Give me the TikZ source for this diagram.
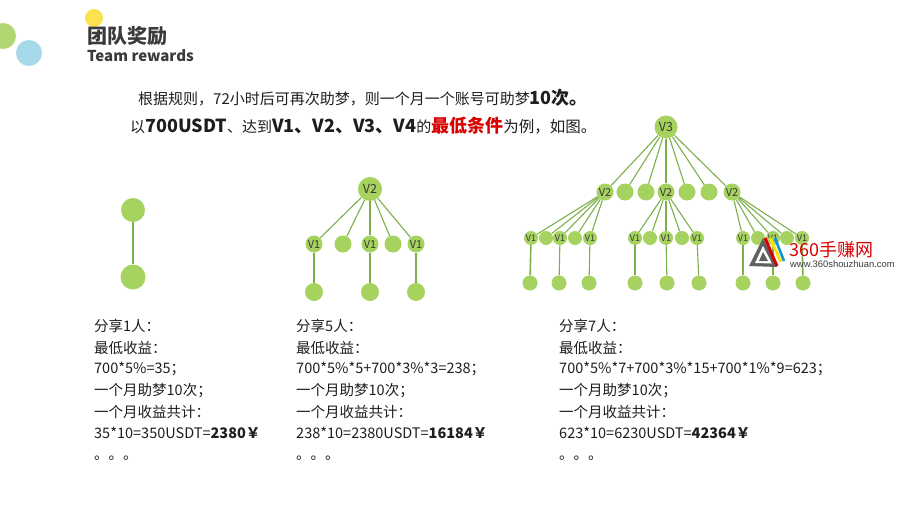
\documentclass[tikz,border=0pt]{standalone}
\usepackage{fontspec}
\setmainfont{Noto Sans CJK SC}
\newfontfamily\logofont{Liberation Sans}
\usetikzlibrary{backgrounds}
\definecolor{leaf}{HTML}{A6D25F}
\definecolor{edgec}{HTML}{7DB04A}
\definecolor{inkc}{HTML}{3A3A3A}
\definecolor{txtc}{HTML}{1E1E1E}
\definecolor{dotg}{HTML}{B2D672}
\definecolor{doty}{HTML}{FBE24E}
\definecolor{dotb}{HTML}{A6D9EA}
\tikzset{
 big/.style={circle,fill=leaf,minimum size=23pt,inner sep=0pt,font=\fontsize{12.5}{12.5}\selectfont,text=inkc},
 mid/.style={circle,fill=leaf,minimum size=17pt,inner sep=0pt,font=\fontsize{11}{11}\selectfont,text=inkc},
 sml/.style={circle,fill=leaf,minimum size=14pt,inner sep=0pt,font=\fontsize{9}{9}\selectfont,text=inkc},
 leafn/.style={circle,fill=leaf,minimum size=16pt,inner sep=0pt},
 link/.style={draw=edgec,line width=1.1pt},
 para/.style={anchor=west,inner sep=0pt,font=\fontsize{14.5}{14.5}\selectfont,text=txtc},
 intro/.style={anchor=west,inner sep=0pt,font=\fontsize{15}{15}\selectfont,text=txtc},
}
\begin{document}
\begin{tikzpicture}[x=1pt,y=-1pt]
\useasboundingbox (0,0) rectangle (900,506);
% decoration
\fill[doty] (94,18) circle (9);
\fill[dotg] (3,36) circle (13);
\fill[dotb] (29,53) circle (13);
\node[anchor=west,inner sep=0pt,font=\bfseries\fontsize{20}{20}\selectfont,text=inkc] (title) at (87,36) {团队奖励};
\node[anchor=west,inner sep=0pt,font=\bfseries\fontsize{15}{15}\selectfont,text=inkc] (subtitle) at (87,56) {Team rewards};
\node[intro] (l1) at (138,98) {根据规则，72小时后可再次助梦，则一个月一个账号可助梦{\bfseries\fontsize{18}{18}\selectfont 10次。}};
\node[intro] (l2) at (130,126) {以{\bfseries\fontsize{18}{18}\selectfont 700USDT}、达到{\bfseries\fontsize{18}{18}\selectfont V1、V2、V3、V4}的{\bfseries\fontsize{18}{18}\selectfont\color{red!85!black}最低条件}{\fontsize{15.5}{15.5}\selectfont 为例，如图。}};
% left tree
\node[circle,fill=leaf,minimum size=24pt,inner sep=0pt] (a1) at (133,210) {};
\node[circle,fill=leaf,minimum size=25pt,inner sep=0pt] (a2) at (133,277) {};
% middle tree
\node[big,minimum size=24pt] (m) at (370,189) {V2};
\foreach \n/\x/\t in {m1/314/V1,m2/343/,m3/370/V1,m4/393/,m5/416/V1}
  \node[mid] (\n) at (\x,244) {\t};
\foreach \n/\x in {mb1/314,mb3/370,mb5/416}
  \node[leafn,minimum size=18pt] (\n) at (\x,292) {};
% right tree
\node[big] (r) at (666,127) {V3};
\foreach \n/\x/\t in {s1/605/V2,s2/625/,s3/646/,s4/666/V2,s5/687/,s6/709/,s7/732/V2}
  \node[mid] (\n) at (\x,192) {\t};
\foreach \n/\x/\t in {t1/531/V1,t2/546/,t3/560/V1,t4/575/,t5/590/V1,t6/635/V1,t7/650/,t8/666/V1,t9/682/,t10/697/V1,t11/743/V1,t12/758/,t13/773/V1,t14/787/,t15/802/V1}
  \node[sml] (\n) at (\x,238) {\t};
\foreach \n/\x in {b1/530,b2/559,b3/589,b4/635,b5/667,b6/699,b7/743,b8/773,b9/803}
  \node[leafn,minimum size=15pt] (\n) at (\x,283) {};
\begin{scope}[on background layer]
\fill[white] (0,0) rectangle (900,506);
\draw[link] (a1)--(a2);
\foreach \n in {m1,m2,m3,m4,m5} \draw[link] (m)--(\n);
\draw[link] (m1)--(mb1); \draw[link,line width=1.6pt] (m3)--(mb3); \draw[link] (m5)--(mb5);
\foreach \i in {1,...,7} \draw[link] (r)--(s\i);
\foreach \i in {1,...,5} \draw[link] (s1)--(t\i);
\foreach \i in {6,...,10} \draw[link] (s4)--(t\i);
\foreach \i in {11,...,15} \draw[link] (s7)--(t\i);
\draw[link,line width=1.6pt] (t1)--(b1); \draw[link] (t3)--(b2); \draw[link] (t5)--(b3);
\draw[link] (t6)--(b4); \draw[link] (t8)--(b5); \draw[link] (t10)--(b6);
\draw[link] (t11)--(b7); \draw[link] (t13)--(b8); \draw[link,line width=1.6pt] (t15)--(b9);
\end{scope}
% paragraphs
\node[para] (p1a) at (94,326) {分享1人：};
\node[para] (p1b) at (94,348) {最低收益：};
\node[para] (p1c) at (94,369) {700*5\%=35；};
\node[para] (p1d) at (94,391) {一个月助梦10次；};
\node[para] (p1e) at (94,412) {一个月收益共计：};
\node[para] (p1f) at (94,433) {35*10=350USDT={\bfseries 2380￥}};
\node[para] (p1g) at (94,458) {。。。};
\node[para] (p2a) at (296,326) {分享5人：};
\node[para] (p2b) at (296,348) {最低收益：};
\node[para] (p2c) at (296,369) {700*5\%*5+700*3\%*3=238；};
\node[para] (p2d) at (296,391) {一个月助梦10次；};
\node[para] (p2e) at (296,412) {一个月收益共计：};
\node[para] (p2f) at (296,433) {238*10=2380USDT={\bfseries 16184￥}};
\node[para] (p2g) at (296,458) {。。。};
\node[para] (p3a) at (559,326) {分享7人：};
\node[para] (p3b) at (559,348) {最低收益：};
\node[para] (p3c) at (559,369) {700*5\%*7+700*3\%*15+700*1\%*9=623；};
\node[para] (p3d) at (559,391) {一个月助梦10次；};
\node[para] (p3e) at (559,412) {一个月收益共计：};
\node[para] (p3f) at (559,433) {623*10=6230USDT={\bfseries 42364￥}};
\node[para] (p3g) at (559,458) {。。。};
% watermark logo
\fill[gray!75!black] (763,238)--(749,266)--(777,267)--cycle;
\fill[white] (763,246)--(755,263)--(772,263.5)--cycle;
\fill[gray!75!black] (763,252)--(759,261)--(768,261)--cycle;
\draw[red!85!black,line width=3pt] (765,238)--(777,266);
\draw[yellow!85!orange,line width=3pt] (770,238)--(781,262);
\draw[cyan!80!blue,line width=2.6pt] (775,238)--(784,261);
\node[anchor=west,inner sep=0pt,font=\fontsize{18}{18}\selectfont,text=red!85!black] (logo) at (789,250) {360手赚网};
\node[anchor=west,inner sep=0pt,font=\logofont\fontsize{9.4}{9.4}\selectfont,text=inkc] (url) at (790,264) {www.360shouzhuan.com};
\end{tikzpicture}
\end{document}
